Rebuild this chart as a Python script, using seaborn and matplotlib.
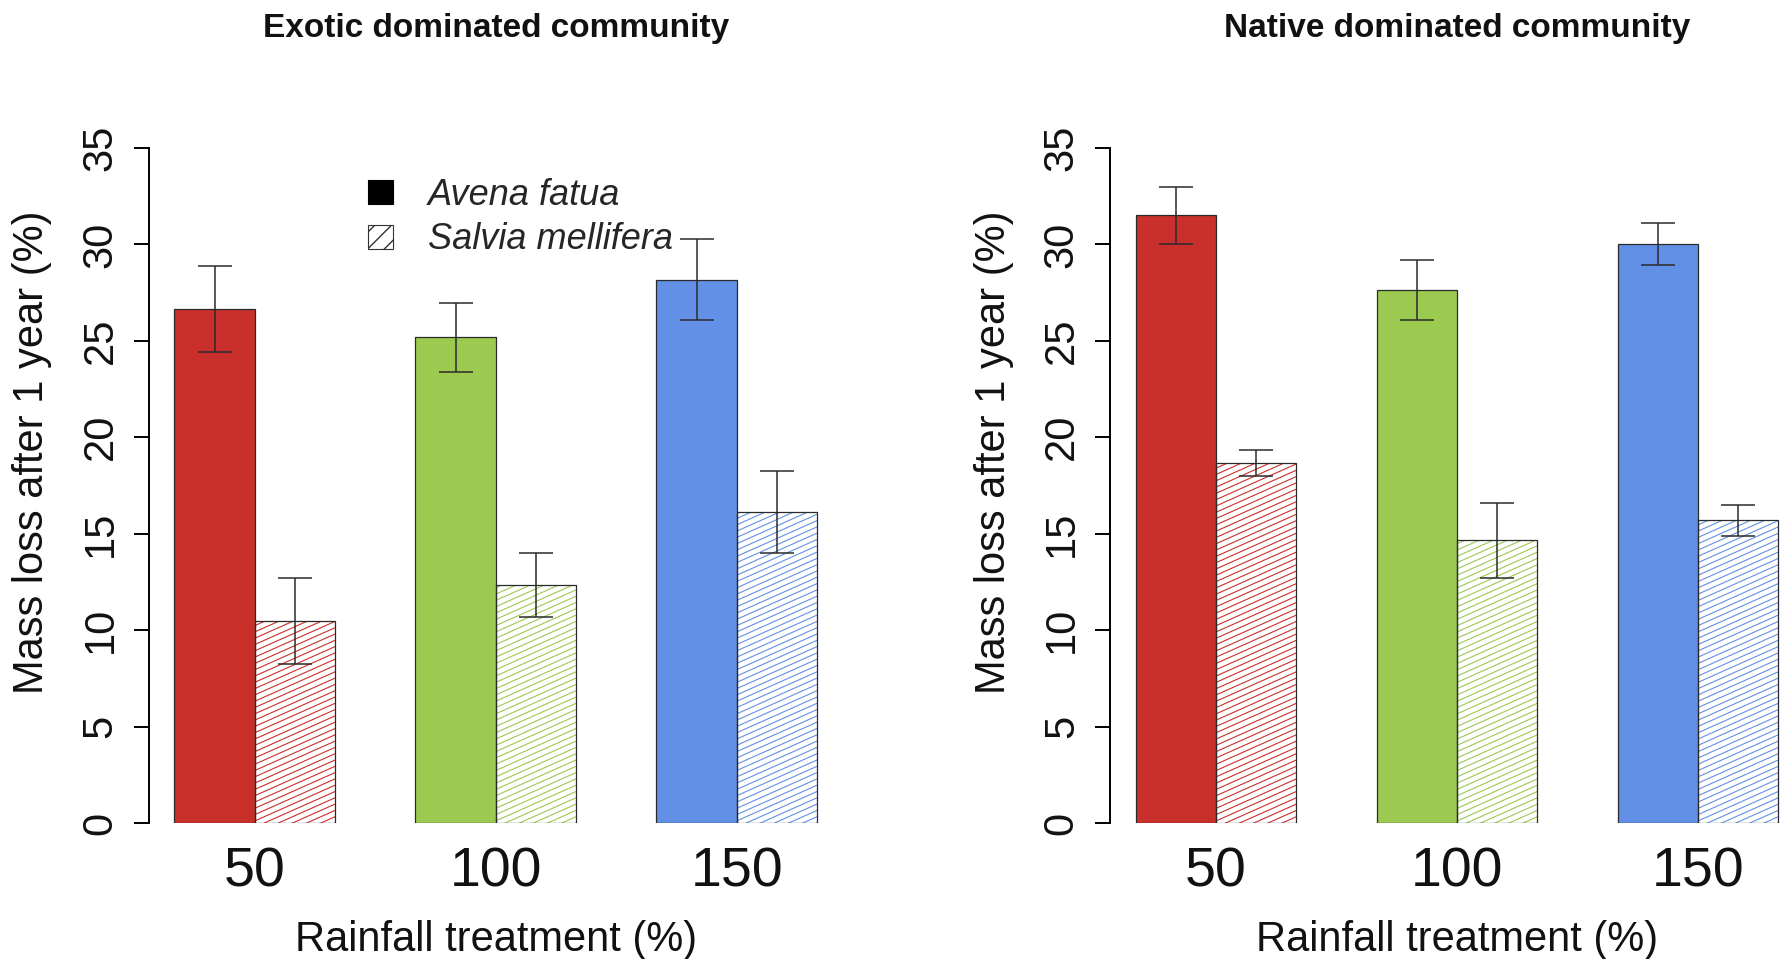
import numpy as np
import pandas as pd
import matplotlib
matplotlib.use("Agg")
import matplotlib.pyplot as plt
import seaborn as sns
from matplotlib.collections import LineCollection
from matplotlib.container import BarContainer
from matplotlib.transforms import IdentityTransform
from matplotlib.patches import Patch

# ---- data -------------------------------------------------------------
rainfall = ["50", "100", "150"]
species = ["Avena fatua", "Salvia mellifera"]
panel_titles = ["Exotic dominated community", "Native dominated community"]

exotic_avena = [26.65, 25.19, 28.17]
exotic_avena_se = [2.22, 1.78, 2.10]
exotic_salvia = [10.47, 12.36, 16.14]
exotic_salvia_se = [2.25, 1.66, 2.13]

native_avena = [31.51, 27.64, 30.03]
native_avena_se = [1.48, 1.57, 1.08]
native_salvia = [18.67, 14.66, 15.69]
native_salvia_se = [0.67, 1.95, 0.80]

treatment_colors = ["#C9302C", "#9CC94F", "#6190E6"]

y_ticks = [0, 5, 10, 15, 20, 25, 30, 35]

# ---- style ------------------------------------------------------------
sns.set_theme(style="white")
plt.rcParams["font.family"] = ["Liberation Sans", "DejaVu Sans"]

W, H, DPI = 1787, 959, 100
fig = plt.figure(figsize=(W / DPI, H / DPI), dpi=DPI)
fig.patch.set_facecolor("white")

PX_PER_UNIT = 19.2857          # pixels per percent on the y axis
Y_TOP = 36.4
AX_W = 694
AX_H = Y_TOP * PX_PER_UNIT
AX_BOTTOM = H - 823


def make_frame(avena, avena_se, salvia, salvia_se):
    rows = []
    for i, r in enumerate(rainfall):
        rows.append((r, species[0], avena[i], avena_se[i]))
        rows.append((r, species[1], salvia[i], salvia_se[i]))
    return pd.DataFrame(rows, columns=["rainfall", "species", "mass_loss", "se"])


def hatch_bar(ax, patch, color, angle_deg=24, spacing=6.3, lw=0.8):
    """Diagonal shading lines clipped to a bar, drawn in pixel space."""
    bb = patch.get_window_extent()
    x0, x1, y0, y1 = bb.x0, bb.x1, bb.y0, bb.y1
    s = np.tan(np.radians(angle_deg))
    span = s * (x1 - x0)
    segs = []
    c = y0 - span - spacing
    while c < y1 + spacing:
        segs.append([(x0, c), (x1, c + span)])
        c += spacing
    lc = LineCollection(segs, colors=color, linewidths=lw,
                        transform=IdentityTransform(), zorder=0.9)
    ax.add_collection(lc, autolim=False)
    # clip to the bar outline (after add_collection, which resets clipping)
    lc.set_clip_box(None)
    lc.set_clip_path(patch.get_path(), patch.get_transform())


def draw_panel(left_px, title, avena, avena_se, salvia, salvia_se, with_legend):
    ax = fig.add_axes([left_px / W, AX_BOTTOM / H, AX_W / W, AX_H / H])
    df = make_frame(avena, avena_se, salvia, salvia_se)
    sns.barplot(data=df, x="rainfall", y="mass_loss", hue="species",
                order=rainfall, hue_order=species, width=2 / 3,
                errorbar=None, legend=False, ax=ax,
                edgecolor="#2a2a2a", linewidth=0.9, saturation=1)
    ax.set_xlim(-0.44, 2.44)
    ax.set_ylim(0, Y_TOP)
    ax.set_facecolor("white")

    fig.canvas.draw()
    bar_containers = [c for c in ax.containers if isinstance(c, BarContainer)]
    for k, container in enumerate(bar_containers):
        patches = sorted(container.patches, key=lambda p: p.get_x())
        values = df[df["species"] == species[k]].set_index("rainfall").loc[rainfall]
        centers = [p.get_x() + p.get_width() / 2 for p in patches]
        for i, p in enumerate(patches):
            if k == 0:
                p.set_facecolor(treatment_colors[i])
            else:
                p.set_facecolor("none")
                hatch_bar(ax, p, treatment_colors[i])
        ax.errorbar(centers, values["mass_loss"].values, yerr=values["se"].values,
                    fmt="none", ecolor="#2b2b2b", elinewidth=1.1,
                    capsize=12.2, capthick=1.1, zorder=3)

    for side in ["top", "right", "bottom"]:
        ax.spines[side].set_visible(False)
    ax.spines["left"].set_bounds(0, 35)
    ax.spines["left"].set_linewidth(1.4)
    ax.spines["left"].set_color("black")
    ax.set_yticks(y_ticks)
    ax.set_yticklabels([str(t) for t in y_ticks])
    ax.tick_params(axis="y", left=True, length=10.8, width=1.4, color="black",
                   direction="out", labelsize=30, pad=9.5, labelrotation=90,
                   labelcolor="#111111")
    for lab in ax.get_yticklabels():
        lab.set_va("center")
    ax.tick_params(axis="x", bottom=False, length=0, labelsize=40, pad=17,
                   labelcolor="#111111")
    ax.set_xlabel("")
    ax.set_ylabel("")

    cx = (left_px + AX_W / 2) / W
    fig.text(cx, 1 - 36.5 / H, title, ha="center", va="baseline",
             fontsize=24, fontweight="bold", color="#111111")
    fig.text(cx, 8 / H, "Rainfall treatment (%)", ha="center", va="baseline",
             fontsize=30, color="#111111")
    fig.text((left_px - 116.5) / W, 1 - 452 / H, "Mass loss after 1 year (%)",
             ha="center", va="center", rotation=90, fontsize=30, color="#111111")

    if with_legend:
        handles = [Patch(facecolor="black", edgecolor="black", linewidth=0.8),
                   Patch(facecolor="white", edgecolor="#333333", linewidth=0.8,
                         hatch="//")]
        ax.legend(handles, species, loc="upper left",
                  bbox_to_anchor=(368 / W, 1 - 178 / H),
                  bbox_transform=fig.transFigure, frameon=False,
                  borderpad=0, borderaxespad=0, handlelength=0.69,
                  handleheight=0.64, handletextpad=0.97, labelspacing=0.26,
                  prop={"size": 26, "style": "italic"})
    return ax


draw_panel(148.7, panel_titles[0], exotic_avena, exotic_avena_se,
           exotic_salvia, exotic_salvia_se, True)
draw_panel(1110.0, panel_titles[1], native_avena, native_avena_se,
           native_salvia, native_salvia_se, False)

fig.savefig("out.png", dpi=DPI, facecolor="white")
